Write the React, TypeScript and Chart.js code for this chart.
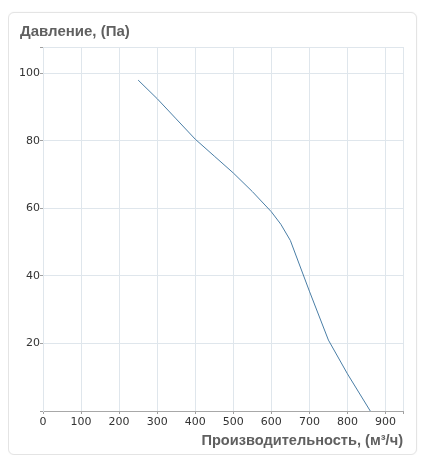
import { useEffect, useRef } from 'react'
import { Chart, registerables } from 'chart.js'

Chart.register(...registerables)

const flow = [250, 300, 350, 400, 450, 500, 550, 600, 625, 650, 700, 750, 800, 860]
const pressure = [98, 92.5, 86.5, 80.5, 75.5, 70.5, 65, 59, 55.3, 50.5, 35.5, 21, 11, 0]

const xTicks = [0, 100, 200, 300, 400, 500, 600, 700, 800, 900]
const yTicks = [20, 40, 60, 80, 100]

const yTitle = 'Давление, (Па)'
const xTitle = 'Производительность, (м³/ч)'
const xMax = 946
const yMax = 107.8

const gridColor = '#dfe6ec'
const titleFont = { family: '"Liberation Sans", Arial, sans-serif', size: 15, weight: 'bold' as const }
const tickFont = { family: '"DejaVu Sans", Verdana, sans-serif', size: 11 }

export default function App() {
  const canvasRef = useRef<HTMLCanvasElement>(null)

  useEffect(() => {
    if (!canvasRef.current) return

    const chart = new Chart(canvasRef.current, {
      type: 'line',
      data: {
        datasets: [{
          data: flow.map((x, i) => ({ x, y: pressure[i] })),
          borderColor: '#4a7ea6',
          borderWidth: 1,
          pointRadius: 0,
          tension: 0,
          fill: false
        }]
      },
      options: {
        responsive: false,
        animation: false,
        layout: { padding: { left: 11, right: 13, top: 0, bottom: 0 } },
        plugins: {
          legend: { display: false },
          tooltip: { enabled: false },
          title: {
            display: true,
            text: yTitle,
            align: 'start',
            color: '#606060',
            font: titleFont,
            padding: { top: 10, bottom: 6 }
          }
        },
        scales: {
          x: {
            type: 'linear',
            min: 0,
            max: xMax,
            afterFit: (scale) => { scale.height = 43 },
            // fixed ticks plus the axis end, so the frame line on the right is drawn
            afterBuildTicks: (scale) => {
              scale.ticks = [...xTicks, xMax].map((value) => ({ value }))
            },
            ticks: {
              autoSkip: false,
              color: '#333',
              font: tickFont,
              padding: 2,
              maxRotation: 0,
              callback: (v) => (xTicks.includes(Number(v)) ? String(v) : '')
            },
            grid: { color: gridColor, tickColor: '#a0a0a0', tickLength: 3 },
            border: { color: '#a8a8a8' },
            title: {
              display: true,
              text: xTitle,
              align: 'end',
              color: '#606060',
              font: { ...titleFont, size: 14.6 },
              padding: { top: 0, bottom: 4 }
            }
          },
          y: {
            type: 'linear',
            min: 0,
            max: yMax,
            afterFit: (scale) => { scale.width = 23 },
            afterBuildTicks: (scale) => {
              scale.ticks = [0, ...yTicks, yMax].map((value) => ({ value }))
            },
            ticks: {
              autoSkip: false,
              color: '#333',
              font: tickFont,
              padding: 0,
              callback: (v) => (yTicks.includes(Number(v)) ? String(v) : '')
            },
            grid: { color: gridColor, tickColor: '#a0a0a0', tickLength: 3 },
            border: { color: gridColor }
          }
        }
      }
    })

    return () => chart.destroy()
  }, [])

  return (
    <div
      style={{
        marginTop: 4,
        width: 409,
        height: 443,
        boxSizing: 'border-box',
        border: '1px solid #e4e4e4',
        borderRadius: 6,
        boxShadow: '0 0 2px rgba(0,0,0,0.05)',
        background: '#fff'
      }}
    >
      <canvas ref={canvasRef} width={407} height={441} style={{ display: 'block' }} />
    </div>
  )
}
